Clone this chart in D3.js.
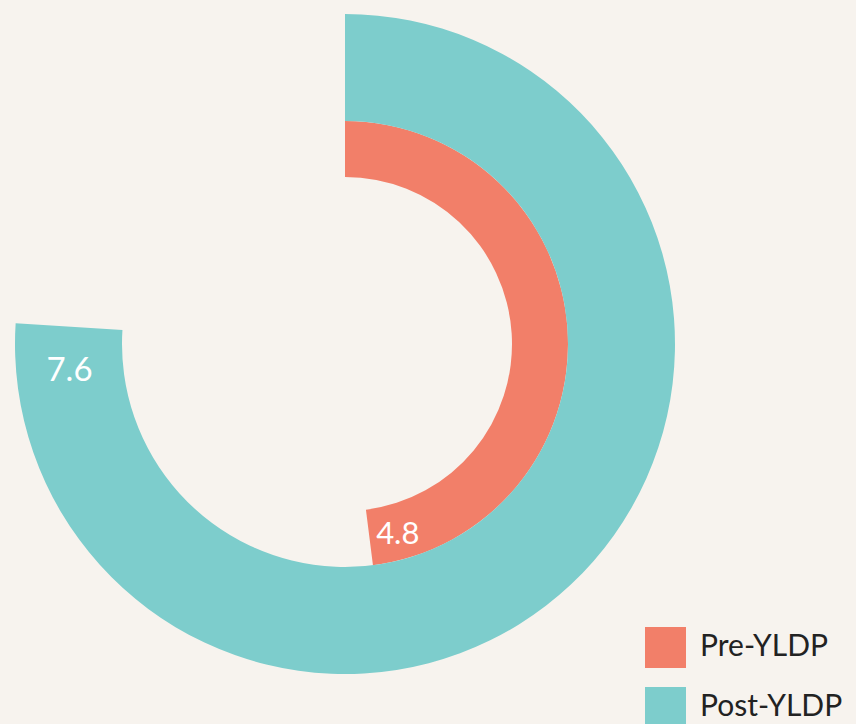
<!DOCTYPE html>
<html>
<head>
<meta charset="utf-8">
<script src="https://cdn.jsdelivr.net/npm/d3@7"></script>
<style>
  body { margin: 0; background: #f7f3ee; }
  svg { display: block; }
</style>
</head>
<body>
<div id="chart-area"></div>
<script>
const SVG_WIDTH = 856
const SVG_HEIGHT = 724
const CENTER = { x: 345, y: 344 }

// data
const series = ["Pre-YLDP", "Post-YLDP"]
const values = [4.8, 7.6]
const colors = ["#f27f69", "#7dcdcc"]
const maxValue = 10

const svg = d3.select("#chart-area").append("svg")
  .attr("width", SVG_WIDTH)
  .attr("height", SVG_HEIGHT)

svg.append("rect")
  .attr("width", SVG_WIDTH)
  .attr("height", SVG_HEIGHT)
  .attr("fill", "#f7f3ee")

const g = svg.append("g")
  .attr("transform", `translate(${CENTER.x}, ${CENTER.y})`)

const angle = d3.scaleLinear()
  .domain([0, maxValue])
  .range([0, 2 * Math.PI])

// radial bands: inner ring for Pre, outer ring for Post
const bands = [[167, 223], [223, 330]]

const arc = d3.arc()
  .innerRadius((d, i) => bands[i][0])
  .outerRadius((d, i) => bands[i][1])
  .startAngle(0)
  .endAngle(d => angle(d))

g.selectAll("path.bar")
  .data(values)
  .enter().append("path")
  .attr("class", "bar")
  .attr("fill", (d, i) => colors[i])
  .attr("d", (d, i) => arc(d, i))

// value labels near the end of each bar
const labelOffset = 8.5 * Math.PI / 180
g.selectAll("text.value")
  .data(values)
  .enter().append("text")
  .attr("class", "value")
  .attr("x", (d, i) => {
    const r = (bands[i][0] + bands[i][1]) / 2
    return r * Math.sin(angle(d) - labelOffset)
  })
  .attr("y", (d, i) => {
    const r = (bands[i][0] + bands[i][1]) / 2
    return -r * Math.cos(angle(d) - labelOffset)
  })
  .attr("text-anchor", "middle")
  .attr("dominant-baseline", "central")
  .attr("font-family", "Lato, sans-serif")
  .attr("font-size", (d, i) => i === 0 ? "31px" : "33px")
  .attr("fill", "#ffffff")
  .text(d => d.toFixed(1))

// legend
const legend = svg.append("g")
  .attr("transform", "translate(645, 627)")

const item = legend.selectAll("g.item")
  .data(series)
  .enter().append("g")
  .attr("class", "item")
  .attr("transform", (d, i) => `translate(0, ${i * 60})`)

item.append("rect")
  .attr("width", 41)
  .attr("height", 41)
  .attr("fill", (d, i) => colors[i])

item.append("text")
  .attr("x", 55)
  .attr("y", 29)
  .attr("font-family", "Lato, sans-serif")
  .attr("font-size", "30px")
  .attr("fill", "#222")
  .text(d => d)
</script>
</body>
</html>
